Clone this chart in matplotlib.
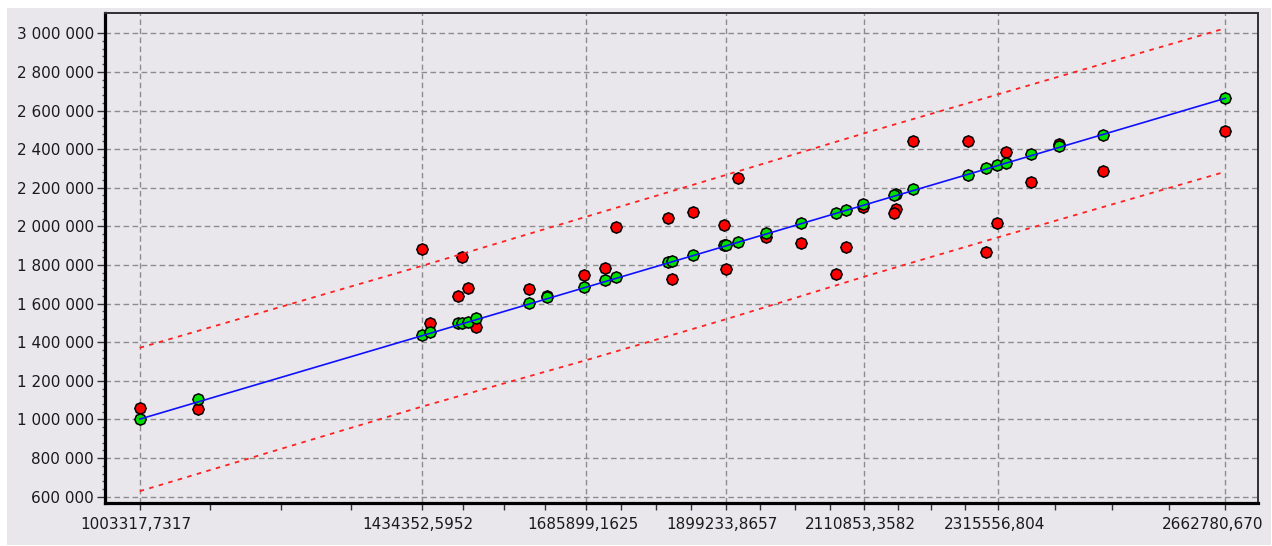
import matplotlib
matplotlib.use("Agg")
import matplotlib.pyplot as plt
import matplotlib.transforms as mtransforms
import numpy as np
from matplotlib.patches import Rectangle
from matplotlib.ticker import FixedLocator, FuncFormatter

# ---- data ----
x_vals = [1003318, 1092434, 1434352, 1447000, 1490000, 1495500, 1505600, 1517400,
          1598855, 1626369, 1682927, 1714568, 1731383, 1810869, 1816525, 1848625,
          1896929, 1899234, 1917412, 1960671, 2013712, 2067671, 2082957, 2108484,
          2159387, 2157000, 2184914, 2268986, 2296959, 2313315, 2327531, 2365745,
          2409004, 2475345, 2662781]
actual = [1057900, 1052700, 1882900, 1501200, 1641000, 1839900, 1679400, 1480500,
          1674200, 1640000, 1748200, 1782900, 1998400, 2041900, 1727500, 2076100,
          2007200, 1777700, 2249000, 1943500, 1912400, 1753400, 1891700, 2100000,
          2088500, 2070900, 2442200, 2442200, 1868900, 2016000, 2383700, 2231400,
          2425000, 2286800, 2494000]
predicted = [1001600, 1104500, 1437500, 1451500, 1497000, 1500000, 1505000, 1524000,
             1601700, 1632700, 1684500, 1722300, 1736300, 1817100, 1820000, 1851800,
             1903600, 1905000, 1920700, 1967300, 2016000, 2067800, 2084900, 2114400,
             2166200, 2162000, 2192100, 2266200, 2303900, 2317900, 2326700, 2373300,
             2416300, 2473300, 2663200]

line_x = [1003317.7317, 2662780.670]
line_y = [1001600, 2663200]

band_x = [1003317.7317, 1434352.5952, 1685899.1625, 1899233.8657,
          2110853.3582, 2315556.804, 2662780.670]
band_upper = [1371000, 1795000, 2050000, 2266000, 2482000, 2684000, 3026000]
band_lower = [628500, 1066200, 1307300, 1518800, 1739500, 1943500, 2282900]

x_ticks = [1003317.7317, 1434352.5952, 1685899.1625, 1899233.8657,
           2110853.3582, 2315556.804, 2662780.670]
x_tick_labels = ["1003317,7317", "1434352,5952", "1685899,1625", "1899233,8657",
                 "2110853,3582", "2315556,804", "2662780,670"]
y_ticks = [600000, 800000, 1000000, 1200000, 1400000, 1600000, 1800000,
           2000000, 2200000, 2400000, 2600000, 2800000, 3000000]

# ---- figure ----
W, H = 1272, 546
fig = plt.figure(figsize=(W / 100, H / 100), dpi=100, facecolor="white")
bg = "#e9e7ec"
panel = Rectangle((7 / W, 1 / H), (1271 - 7) / W, (538 - 1) / H,
                  transform=fig.transFigure, facecolor=bg,
                  edgecolor="none", zorder=-10)
fig.add_artist(panel)

ax = fig.add_axes([104.5 / W, (H - 503) / H, (1258 - 104.5) / W, (503 - 13) / H])
ax.set_facecolor(bg)

ax.set_xlim(949512, 2712766)
ax.set_ylim(567400, 3105000)

# grid
grid_kw = dict(color="#8c8c8c", linewidth=1.0, dashes=(4, 2.5), zorder=1)
for yt in y_ticks:
    ax.axhline(yt, **grid_kw)
for xt in x_ticks:
    ax.axvline(xt, **grid_kw)

# points (rounded diamond look: octagon with a vertex on top)
mk = (8, 0, 0)
ax.plot(x_vals, actual, linestyle="none", marker=mk, markersize=8.2,
        markerfacecolor="#ff0000", markeredgecolor="black", markeredgewidth=1.1,
        zorder=3)
ax.plot(x_vals, predicted, linestyle="none", marker=mk, markersize=8.2,
        markerfacecolor="#00e000", markeredgecolor="black", markeredgewidth=1.1,
        zorder=4)

# regression line and bands
ax.plot(line_x, line_y, color="#1010ff", linewidth=1.2, zorder=5)
ax.plot(band_x, band_upper, color="#ff2020", linewidth=1.3, dashes=(2.5, 3),
        zorder=5)
ax.plot(band_x, band_lower, color="#ff2020", linewidth=1.3, dashes=(2.5, 3),
        zorder=5)

# ticks
ax.xaxis.set_major_locator(FixedLocator(x_ticks))
ax.set_xticklabels(x_tick_labels)
minor_x = []
for a, b in zip(x_ticks[:-1], x_ticks[1:]):
    minor_x.extend(np.linspace(a, b, 5)[1:-1])
ax.xaxis.set_minor_locator(FixedLocator(minor_x))

ax.yaxis.set_major_locator(FixedLocator(y_ticks))
ax.yaxis.set_major_formatter(FuncFormatter(lambda v, p: f"{v:,.0f}".replace(",", " ")))
minor_y = []
for a, b in zip(y_ticks[:-1], y_ticks[1:]):
    minor_y.extend(np.linspace(a, b, 6)[1:-1])
ax.yaxis.set_minor_locator(FixedLocator(minor_y))

ax.tick_params(axis="x", which="both", direction="out", length=5, width=1,
               color="#333333", labelsize=11, pad=5, labelcolor="#1a1a1a")
ax.tick_params(axis="y", which="major", direction="out", length=5.5, width=1,
               color="#333333", labelsize=11, pad=2, labelcolor="#1a1a1a")
ax.tick_params(axis="y", which="minor", direction="out", length=2, width=1,
               color="#555555")

# shift x labels slightly left; last one more so it fits inside the panel
xlabels = ax.get_xticklabels()
for i, lab in enumerate(xlabels):
    dx = -9 / 72 if i == len(xlabels) - 1 else -2.5 / 72
    lab.set_transform(lab.get_transform() +
                      mtransforms.ScaledTranslation(dx, 0, fig.dpi_scale_trans))

for side in ("left", "bottom"):
    ax.spines[side].set_linewidth(2.3)
    ax.spines[side].set_color("black")
for side in ("top", "right"):
    ax.spines[side].set_linewidth(1.4)
    ax.spines[side].set_color("#303030")
for s in ax.spines.values():
    s.set_zorder(6)

fig.savefig("out.png", dpi=100, facecolor="white")
